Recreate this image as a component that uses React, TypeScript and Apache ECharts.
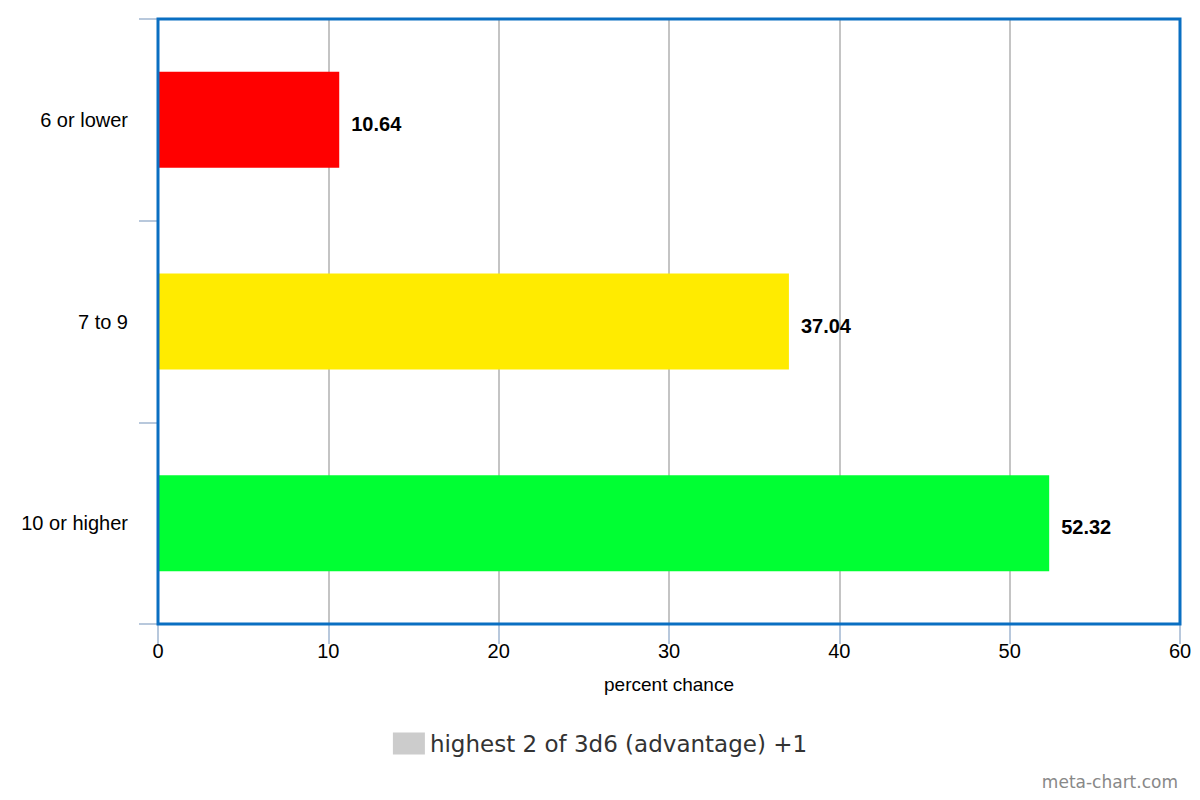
import React, { useEffect, useRef } from "react";
import * as echarts from "echarts";

const categories = ["6 or lower", "7 to 9", "10 or higher"];
const values = [10.64, 37.04, 52.32];
const barColors = ["#FF0000", "#FFEB00", "#00FF33"];
const seriesName = "highest 2 of 3d6 (advantage) +1";
const xTicks = { min: 0, max: 60, interval: 10 };

export default function App() {
  const ref = useRef<HTMLDivElement>(null);
  useEffect(() => {
    if (!ref.current) return;
    const chart = echarts.init(ref.current, null, { renderer: "svg" });
    chart.setOption({
      animation: false,
      backgroundColor: "#ffffff",
      grid: {
        left: 158,
        right: 20,
        top: 19,
        bottom: 176,
        show: true,
        borderColor: "#0A6FC2",
        borderWidth: 3,
        backgroundColor: "transparent",
        z: 3,
      },
      legend: {
        data: [seriesName],
        bottom: 40,
        left: "center",
        itemWidth: 32,
        itemHeight: 22,
        itemGap: 10,
        textStyle: { fontFamily: "DejaVu Sans", fontSize: 23, color: "#333333" },
        icon: "rect",
      },
      xAxis: {
        type: "value",
        min: xTicks.min,
        max: xTicks.max,
        interval: xTicks.interval,
        name: "percent chance",
        nameLocation: "middle",
        nameGap: 51,
        nameTextStyle: { fontFamily: "Liberation Sans", fontSize: 19, color: "#000" },
        axisLine: { show: true, lineStyle: { color: "#B8C8DC", width: 2 } },
        axisTick: { show: true, length: 20, lineStyle: { color: "#B8C8DC", width: 2 } },
        axisLabel: { fontFamily: "Liberation Sans", fontSize: 20, color: "#000", margin: 17 },
        splitLine: { show: true, lineStyle: { color: "#C4C4C4", width: 2 } },
      },
      yAxis: {
        type: "category",
        data: categories,
        inverse: true,
        boundaryGap: true,
        axisLine: { show: true, lineStyle: { color: "#B8C8DC", width: 2 } },
        axisTick: { show: true, length: 19, lineStyle: { color: "#B8C8DC", width: 2 } },
        axisLabel: {
          fontFamily: "Liberation Sans",
          fontSize: 20,
          color: "#000",
          margin: 30,
          lineHeight: 20,
          padding: [7, 0, 0, 0],
        },
        splitLine: { show: false },
      },
      graphic: [
        {
          type: "text",
          right: 22,
          bottom: 10,
          style: {
            text: "meta-chart.com",
            fontFamily: "DejaVu Sans",
            fontSize: 17,
            fill: "#888888",
          },
        },
      ],
      series: [
        {
          name: seriesName,
          type: "bar",
          barWidth: 96,
          itemStyle: { color: "#CCCCCC" },
          data: values.map((v, i) => ({ value: v, itemStyle: { color: barColors[i] } })),
          label: {
            show: true,
            position: "right",
            distance: 12,
            offset: [0, 4],
            fontFamily: "Liberation Sans",
            fontSize: 20,
            fontWeight: "bold",
            color: "#000",
          },
        },
      ],
    });
    return () => chart.dispose();
  }, []);
  return <div ref={ref} style={{ width: 1200, height: 800, position: "absolute", left: 0, top: 0 }} />;
}
